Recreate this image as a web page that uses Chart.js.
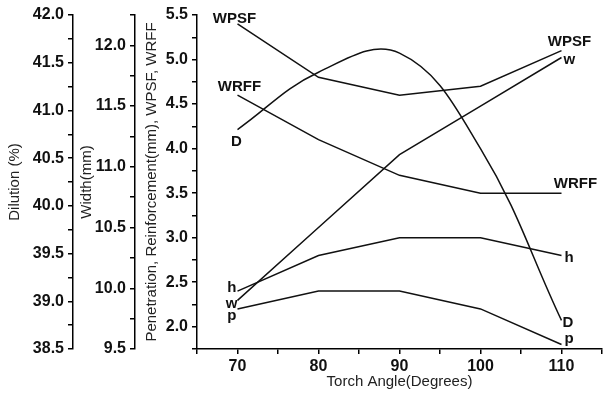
<!DOCTYPE html>
<html>
<head>
<meta charset="utf-8">
<script src="https://cdn.jsdelivr.net/npm/chart.js"></script>
<style>
  html, body { margin: 0; padding: 0; background: #fff; }
  #wrap { width: 605px; height: 401px; }
</style>
</head>
<body>
<div id="wrap"><canvas id="chart"></canvas></div>
<script>
// data
const angles = [70, 80, 90, 100, 110];
const wpsf = [5.4, 4.8, 4.6, 4.7, 5.1];
const wrff = [4.6, 4.1, 3.7, 3.5, 3.5];
const reinforcement = [2.4, 2.8, 3.0, 3.0, 2.8];   // h
const penetration = [2.2, 2.4, 2.4, 2.2, 1.8];     // p
const beadWidth = [9.9, 10.5, 11.1, 11.5, 11.9];   // w
const dilution = [40.8, 41.4, 41.6, 40.6, 38.8];   // D
const xTickLabels = [70, 80, 90, 100, 110];

Chart.defaults.font.family = "'Liberation Sans', Arial, sans-serif";
Chart.defaults.color = '#111';

const pts = arr => arr.map((v, i) => ({ x: angles[i], y: v }));

function line(data, axis, tension) {
  return {
    data: pts(data),
    yAxisID: axis,
    borderColor: '#111',
    borderWidth: 1.5,
    pointRadius: 0,
    tension: tension || 0,
    fill: false
  };
}

// text tags at line ends: [dataset, point, text, dx, dy, align]
const tags = [
  [0, 0, 'WPSF', -3, -1, 'center'],
  [0, 4, 'WPSF', 8, -5, 'center'],
  [1, 0, 'WRFF', 2, -4, 'center'],
  [1, 4, 'WRFF', 14, -5, 'center'],
  [2, 0, 'h', -1, 1, 'right'],
  [2, 4, 'h', 3, 7, 'left'],
  [3, 0, 'p', -1, 11, 'right'],
  [3, 4, 'p', 3, -2, 'left'],
  [4, 0, 'w', 0, 8, 'right'],
  [4, 4, 'w', 2, 6, 'left'],
  [5, 0, 'D', -1, 16, 'center'],
  [5, 4, 'D', 1, 7, 'left']
];

const tagPlugin = {
  id: 'tags',
  afterDatasetsDraw(chart) {
    const ctx = chart.ctx;
    ctx.save();
    ctx.fillStyle = '#111';
    ctx.font = "bold 15px 'Liberation Sans', Arial, sans-serif";
    ctx.textBaseline = 'alphabetic';
    tags.forEach(t => {
      const el = chart.getDatasetMeta(t[0]).data[t[1]];
      ctx.textAlign = t[5];
      ctx.fillText(t[2], el.x + t[3], el.y + t[4]);
    });
    ctx.restore();
  }
};

const half = v => Math.abs(v * 2 - Math.round(v * 2)) < 1e-6;

function yAxis(min, max, title, boxWidth, titlePad, weight) {
  return {
    type: 'linear',
    position: 'left',
    weight: weight,
    min: min,
    max: max,
    ticks: {
      stepSize: 0.25,
      autoSkip: false,
      padding: 4,
      color: '#111',
      font: { size: 16, weight: 'bold' },
      callback: v => half(v) ? v.toFixed(1) : ''
    },
    grid: { drawOnChartArea: false, tickLength: 5, color: '#000', lineWidth: 1.5 },
    border: { color: '#000', width: 1.5 },
    title: {
      display: true,
      text: title,
      color: '#222',
      font: { size: 15 },
      padding: { top: titlePad, bottom: 0 }
    },
    afterFit: s => { s.width = boxWidth; }
  };
}

new Chart(document.getElementById('chart'), {
  type: 'line',
  data: {
    datasets: [
      line(wpsf, 'y'),
      line(wrff, 'y'),
      line(reinforcement, 'y'),
      line(penetration, 'y'),
      line(beadWidth, 'yW'),
      line(dilution, 'yD', 0.4)
    ]
  },
  options: {
    responsive: true,
    maintainAspectRatio: false,
    animation: false,
    layout: { padding: { top: 15, right: 0, bottom: 0, left: 0 } },
    plugins: { legend: { display: false }, tooltip: { enabled: false } },
    scales: {
      x: {
        type: 'linear',
        min: 65,
        max: 115,
        ticks: {
          stepSize: 5,
          autoSkip: false,
          maxRotation: 0,
          padding: 3,
          color: '#111',
          font: { size: 16, weight: 'bold' },
          callback: v => xTickLabels.includes(v) ? String(v) : ''
        },
        grid: { drawOnChartArea: false, tickLength: 5, color: '#000', lineWidth: 1.5 },
        border: { color: '#000', width: 1.5 },
        title: {
          display: true,
          text: 'Torch Angle(Degrees)',
          color: '#222',
          font: { size: 15 },
          padding: { top: 0, bottom: 10 }
        },
        afterFit: s => { s.height = 52; }
      },
      y: yAxis(1.75, 5.5, 'Penetration, Reinforcement(mm), WPSF, WRFF', 62, 8, 1),
      yW: yAxis(9.5, 12.25, 'Width(mm)', 62, 5, 2),
      yD: yAxis(38.5, 42.0, 'Dilution (%)', 73, 6, 3)
    }
  },
  plugins: [tagPlugin]
});
</script>
</body>
</html>
